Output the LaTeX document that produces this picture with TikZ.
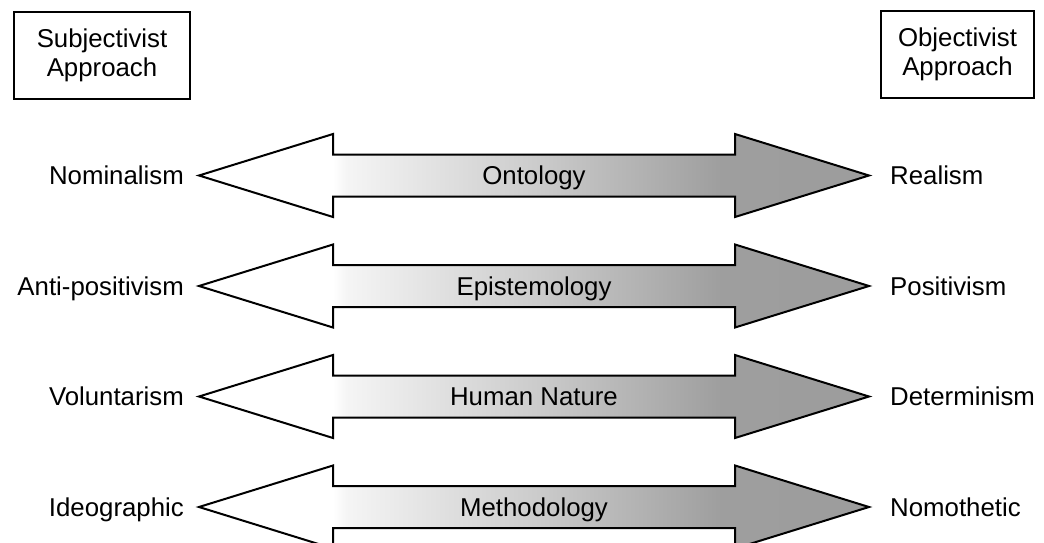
\documentclass[tikz,border=0pt]{standalone}
\usepackage{fontspec}
\setmainfont{Liberation Sans}
% white on the subjectivist side, grey on the objectivist side
\pgfdeclarehorizontalshading{axisgrey}{100bp}{%
  color(0bp)=(white); color(35bp)=(white); color(36bp)=(black!4);
  color(50bp)=(black!20); color(64bp)=(black!38); color(100bp)=(black!40)}
\begin{document}
\begin{tikzpicture}[x=1pt,y=-1pt,
    every node/.style={font=\fontsize{25.8}{29}\selectfont, inner sep=0pt},
    approach/.style={draw, line width=1.4pt, align=center, minimum width=176pt, minimum height=87pt},
    axis/.style={draw, line width=2pt, line join=miter, shading=axisgrey},
    % capitals centred on the arrow axis
    rowtext/.style={text height=18.5pt, text depth=0pt},
    pole/.style={rowtext},
    dimension/.style={rowtext}]
  \clip (0,0) rectangle (1044,543);

  % the two approaches
  \node[approach] (subj) at (102,55.5) {Subjectivist\\Approach};
  \node[approach, minimum width=153pt] (obj) at (957.5,54.5) {Objectivist\\Approach};

  % one double arrow per dimension
  \foreach \y/\lt/\ct/\rt [count=\i] in {
      175.5/Nominalism/Ontology/Realism,
      286/Anti-positivism/Epistemology/Positivism,
      396.5/Voluntarism/Human Nature/Determinism,
      507/Ideographic/Methodology/Nomothetic} {
    \path[axis] (199,\y) -- (333,\y-41.5) -- (333,\y-21) -- (735,\y-21)
      -- (735,\y-41.5) -- (869,\y) -- (735,\y+41.5) -- (735,\y+21)
      -- (333,\y+21) -- (333,\y+41.5) -- cycle;
    \node[dimension] (c\i) at (534,\y) {\ct};
    \node[pole, anchor=east] (l\i) at (184,\y) {\lt};
    \node[pole, anchor=west] (r\i) at (890,\y) {\rt};
  }
\end{tikzpicture}
\end{document}
